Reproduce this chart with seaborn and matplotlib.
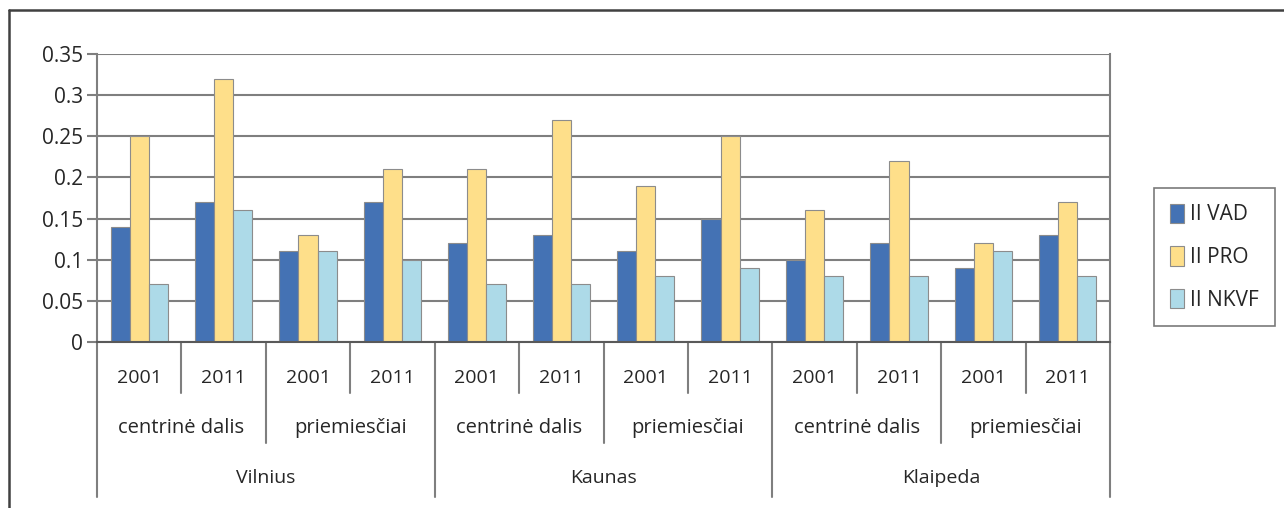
"""
Grouped bars: II VAD / II PRO / II NKVF by city, area and year.
"""
import seaborn as sns
import matplotlib.pyplot as plt
import pandas as pd
from matplotlib.lines import Line2D
from matplotlib.transforms import blended_transform_factory

sns.set_theme(style='white')
plt.rcParams['font.family'] = ['Open Sans', 'DejaVu Sans']

cities = ['Vilnius', 'Kaunas', 'Klaipeda']
areas = ['centrinė dalis', 'priemiesčiai']
years = ['2001', '2011']
series = ['II VAD', 'II PRO', 'II NKVF']

vad = [0.14, 0.17, 0.11, 0.17, 0.12, 0.13, 0.11, 0.15, 0.10, 0.12, 0.09, 0.13]
pro = [0.25, 0.32, 0.13, 0.21, 0.21, 0.27, 0.19, 0.25, 0.16, 0.22, 0.12, 0.17]
nkvf = [0.07, 0.16, 0.11, 0.10, 0.07, 0.07, 0.08, 0.09, 0.08, 0.08, 0.11, 0.08]

colors = ['#4472B4', '#FEDF8A', '#ADDAE8']
text_c = '#262626'
grid_c = '#7f7f7f'

# build long table
keys = []
for c in cities:
    for a in areas:
        for y in years:
            keys.append('{}|{}|{}'.format(c, a, y))

rows = []
for name, vals in zip(series, [vad, pro, nkvf]):
    for k, v in zip(keys, vals):
        rows.append({'cat': k, 'series': name, 'value': v})
data = pd.DataFrame(rows)

fig = plt.figure(figsize=(12.84, 5.08), dpi=100)
ax = fig.add_axes([97 / 1284, 1 - 342 / 508, (1110 - 97) / 1284, (342 - 54) / 508])

sns.barplot(data=data, x='cat', y='value', hue='series', order=keys,
            hue_order=series, palette=colors, saturation=1, width=0.68, ax=ax,
            edgecolor='#8c8c8c', linewidth=0.8, legend=True)

ax.set_ylim(0, 0.35)
ax.set_yticks([0, 0.05, 0.1, 0.15, 0.2, 0.25, 0.3, 0.35])
ax.set_yticklabels(['0', '0.05', '0.1', '0.15', '0.2', '0.25', '0.3', '0.35'])
ax.yaxis.grid(True, color=grid_c, linewidth=1.5)
ax.set_axisbelow(True)
ax.tick_params(axis='y', length=7, width=1.5, color=grid_c, labelsize=15,
               labelcolor=text_c, pad=3, left=True)
ax.set_xlim(-0.5, 11.5)
ax.set_xticks([])
ax.set_xlabel('')
ax.set_ylabel('')
ax.spines['top'].set_visible(False)
for s in ['left', 'right']:
    ax.spines[s].set_color(grid_c)
    ax.spines[s].set_linewidth(1.5)
ax.spines['bottom'].set_color('#595959')
ax.spines['bottom'].set_linewidth(1.5)

# multi-level category axis
trans = blended_transform_factory(ax.transData, ax.transAxes)
for i in range(13):
    b = i - 0.5
    if i % 4 == 0:
        bottom = -0.538
    elif i % 2 == 0:
        bottom = -0.351
    else:
        bottom = -0.177
    ax.add_line(Line2D([b, b], [0, bottom], transform=trans, color=grid_c,
                       linewidth=1.5, clip_on=False))

for i, k in enumerate(keys):
    ax.text(i, -0.125, k.split('|')[2], transform=trans, ha='center',
            va='center', fontsize=14, color=text_c)
for j in range(6):
    ax.text(2 * j + 0.5, -0.299, areas[j % 2], transform=trans, ha='center',
            va='center', fontsize=14.5, color=text_c)
for j, c in enumerate(cities):
    ax.text(4 * j + 1.5, -0.472, c, transform=trans, ha='center',
            va='center', fontsize=14, color=text_c)

leg = ax.legend(loc='upper left', bbox_to_anchor=(1154 / 1284, 1 - 188 / 508),
                bbox_transform=fig.transFigure, frameon=True, fancybox=False,
                fontsize=15, handlelength=0.7, handleheight=1.05,
                handletextpad=0.3, labelspacing=1.0, borderpad=0.75,
                borderaxespad=0)
leg.get_frame().set_edgecolor('#595959')
leg.get_frame().set_linewidth(1.2)
for t in leg.get_texts():
    t.set_color(text_c)

# outer chart frame (left and top edges)
fig.add_artist(Line2D([9 / 1284, 9 / 1284], [0, 1 - 10 / 508],
                      transform=fig.transFigure, color='#404040', linewidth=1.8))
fig.add_artist(Line2D([9 / 1284, 1], [1 - 10 / 508, 1 - 10 / 508],
                      transform=fig.transFigure, color='#404040', linewidth=1.8))

fig.savefig('out.png', dpi=100)
